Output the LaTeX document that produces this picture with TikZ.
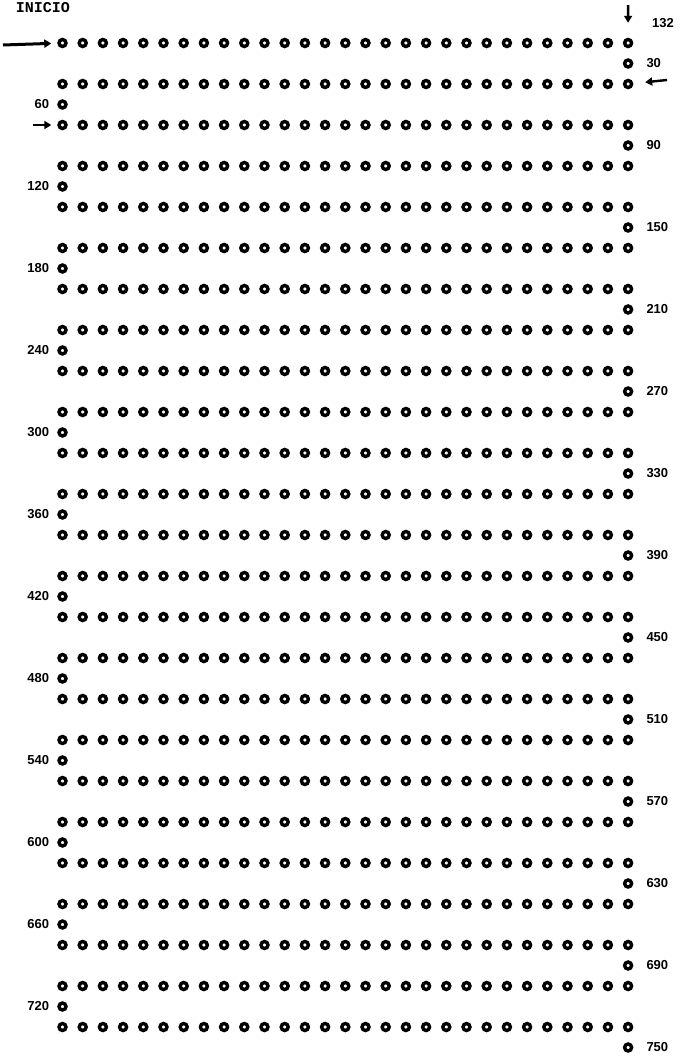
\documentclass[tikz,border=0pt]{standalone}
\usepackage{fontspec}
\setmainfont{Liberation Sans}
\setmonofont{Liberation Mono}
\usetikzlibrary{arrows.meta,positioning}

\begin{document}
\begin{tikzpicture}[x=1pt,y=-1pt,
    hole/.style={circle,draw,line width=3.4pt,minimum size=7pt,inner sep=0pt},
    count/.style={font=\bfseries\fontsize{13}{13}\selectfont,inner sep=0pt},
    feed/.style={-{Triangle[length=7pt,width=8pt]},line width=2.4pt}]
  % Page: 680 x 1060, rows go down.
  \useasboundingbox (0,0) rectangle (680,1060);

  % Rows of holes (29 per row, 25 rows).
  \foreach \r in {0,...,24}{
    \pgfmathsetmacro{\y}{43+41*\r}
    \foreach \k in {0,...,28}{
      \pgfmathsetmacro{\x}{62.5+20.2*\k}
      \node[hole] (c-\r-\k) at (\x,\y) {};
    }
  }

  % Turning holes on the right.
  \foreach \r in {0,2,...,24}{
    \pgfmathsetmacro{\y}{63.5+41*\r}
    \pgfmathtruncatemacro{\n}{30*(\r+1)}
    \node[hole] (j-\r) at (628.1,\y) {};
    \node[count,right=13pt of j-\r] (l-\r) {\n};
  }

  % Turning holes on the left.
  \foreach \r in {1,3,...,23}{
    \pgfmathsetmacro{\y}{63.5+41*\r}
    \pgfmathtruncatemacro{\n}{30*(\r+1)}
    \node[hole] (j-\r) at (62.5,\y) {};
    \node[count,left=8pt of j-\r] (l-\r) {\n};
  }

  % Start.
  \node[font=\ttfamily\bfseries\fontsize{15}{15}\selectfont,inner sep=0pt] (start) at (43,8) {INICIO};
  \coordinate (in-0) at (3,45);
  \draw[feed,line width=3pt,shorten >=6pt] (in-0) -- (c-0-0);

  \coordinate (drop) at (628.1,5);
  \draw[feed,shorten >=15pt] (drop) -- (c-0-28);
  \node[count,anchor=west] (top) at (652,23) {132};

  % Direction marks.
  \coordinate (in-1) at (667,80);
  \draw[feed,shorten >=12pt] (in-1) -- (c-1-28);
  \coordinate (in-2) at (33,125);
  \draw[feed,shorten >=6pt] (in-2) -- (c-2-0);
\end{tikzpicture}
\end{document}
